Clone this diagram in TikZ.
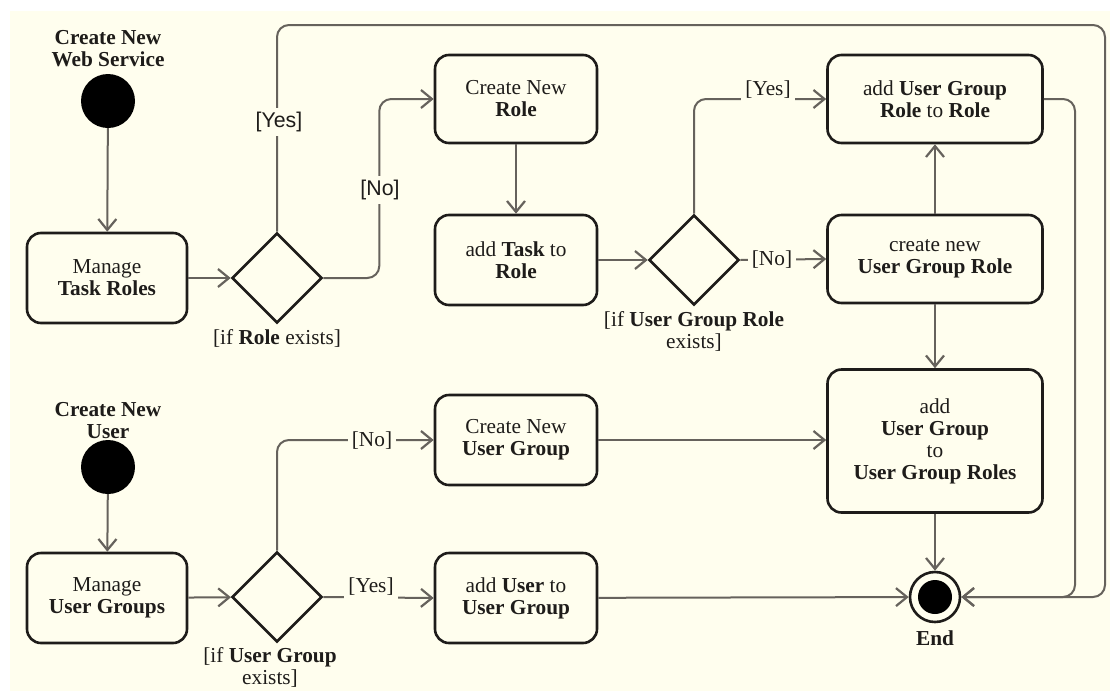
\documentclass[tikz,border=0pt]{standalone}
\usepackage{fontspec}
\setmainfont{Liberation Serif}
\newfontfamily\lsans{Liberation Sans}
\usepackage{tikz}
\usetikzlibrary{arrows.meta,positioning,calc,shapes.geometric}
\definecolor{cream}{HTML}{FFFEEE}
\definecolor{ink}{HTML}{1E1C1A}
\definecolor{wire}{HTML}{66625C}
\newcommand\dfont{\fontsize{21.3}{22}\selectfont}
\tikzset{
  >={Straight Barb[length=11pt,width=18pt,line width=2.2pt]},
  act/.style={draw=ink,fill=cream,rounded corners=14pt,line width=2.6pt,align=center,minimum width=162pt,minimum height=90pt,inner sep=2pt,font=\dfont,text=ink},
  wact/.style={act,minimum width=215pt},
  dec/.style={diamond,draw=ink,fill=cream,line width=2.6pt,minimum width=90pt,minimum height=90pt,inner sep=0pt},
  ini/.style={circle,fill=black,minimum size=54pt,inner sep=0pt},
  fin/.style={circle,draw=ink,fill=cream,line width=2.6pt,minimum size=50pt,inner sep=0pt},
  lab/.style={font=\dfont\bfseries,align=center,inner sep=1pt,text=ink},
  cond/.style={font=\dfont,align=center,inner sep=1pt,text=ink},
  guard/.style={font=\dfont,fill=cream,inner sep=4pt,text=ink},
  flow/.style={->,draw=wire,line width=2pt,rounded corners=12pt},
}
\begin{document}
\begin{tikzpicture}[x=1pt,y=-1pt]
\useasboundingbox (0,0) rectangle (1110,691);
\fill[white] (0,0) rectangle (1110,691);
\fill[cream] (10,11) rectangle (1110,691);
% web service branch
\node[lab] (s1t) at (108,49) {Create New\\Web Service};
\node[ini] (s1) at (108,101) {};
\node[act,minimum width=160pt] (mtr) at (107,278) {Manage\\\textbf{Task Roles}};
\node[dec] (d1) at (277,278) {};
\node[cond] (d1t) at (277,338) {[if \textbf{Role} exists]};
\node[act,minimum height=88pt] (cnr) at (516,99) {Create New\\\textbf{Role}};
\node[act] (atr) at (516,260) {add \textbf{Task} to\\\textbf{Role}};
\node[dec] (d2) at (694,260) {};
\node[cond] (d2t) at (694,331) {[if \textbf{User Group Role}\\exists]};
\node[wact,minimum height=88pt] (augr) at (935,99) {add \textbf{User Group}\\\textbf{Role} to \textbf{Role}};
\node[wact,minimum height=88pt] (cugr) at (935,259) {create new\\\textbf{User Group Role}};
\node[wact,minimum height=143pt] (aug) at (935,441) {add\\\textbf{User Group}\\to\\\textbf{User Group Roles}};
% user branch
\node[lab] (s2t) at (108,421) {Create New\\User};
\node[ini] (s2) at (108,467) {};
\node[act,minimum width=160pt] (mug) at (107,598) {Manage\\\textbf{User Groups}};
\node[dec] (d3) at (277,597) {};
\node[cond] (d3t) at (270,667) {[if \textbf{User Group}\\exists]};
\node[act] (cnug) at (516,440) {Create New\\\textbf{User Group}};
\node[act] (aut) at (516,598) {add \textbf{User} to\\\textbf{User Group}};
% end
\node[fin] (end) at (935,597) {};
\fill[black] (end) circle (17);
\node[lab] (endt) at (935,638) {End};
\coordinate (topr) at (1105,25);
\coordinate (augrr) at (1075,99);
% flows
\draw[flow] (s1) -- (mtr);
\draw[flow] (mtr) -- (d1);
\draw[flow] (d1.north) |- (topr) |- (end.east);
\draw[flow] (d1.east) -- ++(56,0) |- (cnr.west);
\draw[flow] (cnr) -- (atr);
\draw[flow] (atr) -- (d2);
\draw[flow] (d2.north) |- (augr.west);
\draw[flow] (d2.east) -- (cugr.west);
\draw[flow] (cugr) -- (augr);
\draw[flow] (cugr) -- (aug);
\draw[flow] (augr.east) -- (augrr) |- (end.east);
\draw[flow] (aug) -- (end);
\draw[flow] (s2) -- (mug);
\draw[flow] (mug) -- (d3);
\draw[flow] (d3.north) |- (cnug.west);
\draw[flow] (d3.east) -- (aut.west);
\draw[flow] (cnug.east) -- (cnug.east -| aug.west);
\draw[flow] (aut) -- (end);
% guards
\node[guard,font=\dfont\lsans] (g1) at (279,122) {[Yes]};
\node[guard,font=\dfont\lsans] (g2) at (380,190) {[No]};
\node[guard] (g3) at (768,90) {[Yes]};
\node[guard] (g4) at (772,260) {[No]};
\node[guard] (g5) at (372,441) {[No]};
\node[guard] (g6) at (371,587) {[Yes]};
\end{tikzpicture}
\end{document}
